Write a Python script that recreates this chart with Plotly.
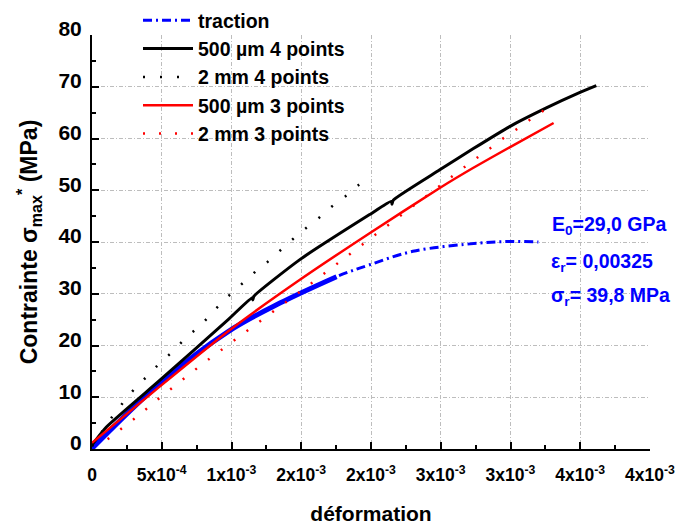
import plotly.graph_objects as go

# traction (blue, dash-dot); the dense early part is drawn thick
trac_x = [0, 4.87e-4, 9.76e-4, 1.347e-3, 1.753e-3, 1.99e-3, 2.3e-3, 2.78e-3, 3.0e-3, 3.2e-3]
trac_y = [0.1, 12.7, 22.7, 28.2, 33.3, 35.6, 38.2, 39.8, 40.1, 40.0]
trac_dense_x = [0, 4.87e-4, 9.76e-4, 1.347e-3, 1.753e-3]
trac_dense_y = [0.1, 12.7, 22.7, 28.2, 33.3]

# 500 um 4 points (black solid)
b4_x = [0, 1.05e-4, 4.87e-4, 9.76e-4, 1.15e-3, 1.153e-3, 1.16e-3, 1.49e-3, 1.99e-3,
        2.147e-3, 2.15e-3, 2.16e-3, 2.49e-3, 2.731e-3, 2.994e-3, 3.257e-3, 3.49e-3, 3.615e-3]
b4_y = [0.8, 4.3, 13.3, 25.0, 29.3, 28.8, 29.5, 36.6, 45.3,
        47.9, 47.3, 48.1, 53.9, 58.0, 62.3, 65.9, 68.8, 70.2]

# 2 mm 4 points (black dotted)
m4_x = [0, 6.9e-5, 1.45e-4, 2.24e-4, 3.08e-4, 4.03e-4, 4.94e-4, 5.87e-4, 6.78e-4, 7.74e-4,
        8.76e-4, 9.72e-4, 1.063e-3, 1.16e-3, 1.256e-3, 1.352e-3, 1.454e-3, 1.526e-3,
        1.624e-3, 1.717e-3, 1.815e-3, 1.915e-3]
m4_y = [0.5, 3.35, 6.25, 9.03, 11.74, 14.26, 16.83, 19.0, 21.7, 23.7,
        26.8, 29.4, 31.7, 34.0, 36.1, 38.5, 40.9, 42.5,
        44.6, 46.8, 48.8, 51.1]

# 500 um 3 points (red solid)
r3_x = [0, 4.87e-4, 9.88e-4, 1.49e-3, 1.99e-3, 2.49e-3, 2.731e-3, 2.994e-3, 3.309e-3]
r3_y = [1.2, 12.1, 23.0, 32.7, 41.7, 50.4, 54.3, 58.3, 63.0]

# 2 mm 3 points (red dotted)
m3_x = [1.12e-4, 2.24e-4, 3.39e-4, 4.51e-4, 5.64e-4, 6.78e-4, 7.9e-4, 9.05e-4, 1.017e-3,
        1.132e-3, 1.246e-3, 1.359e-3, 1.471e-3, 1.586e-3, 1.698e-3, 1.813e-3, 1.925e-3,
        2.039e-3, 2.151e-3, 2.266e-3, 2.378e-3, 2.493e-3, 2.605e-3, 2.72e-3, 2.834e-3,
        2.946e-3, 3.061e-3, 3.175e-3, 3.288e-3]
m3_y = [1.88, 4.12, 6.58, 9.15, 11.6, 14.0, 16.4, 18.7, 20.9,
        23.2, 25.5, 27.7, 30.0, 32.3, 34.6, 36.9, 39.1,
        41.5, 43.8, 46.1, 48.5, 50.9, 53.1, 55.5, 57.7,
        60.0, 62.1, 64.3, 66.3]

x_ticks = [0, 5e-4, 1e-3, 1.5e-3, 2e-3, 2.5e-3, 3e-3, 3.5e-3, 4e-3]
x_labels = ["0", "5x10<sup>-4</sup>", "1x10<sup>-3</sup>", "2x10<sup>-3</sup>", "2x10<sup>-3</sup>",
            "3x10<sup>-3</sup>", "3x10<sup>-3</sup>", "4x10<sup>-3</sup>", "4x10<sup>-3</sup>"]

FONT = "Liberation Sans, Arial, sans-serif"
BLUE = "#0000ff"

fig = go.Figure()
fig.add_trace(go.Scatter(x=trac_x, y=trac_y, mode="lines", name="traction",
                         line=dict(color=BLUE, width=3, dash="9px,4px,2px,4px", shape="spline")))
fig.add_trace(go.Scatter(x=trac_dense_x, y=trac_dense_y, mode="lines", showlegend=False,
                         line=dict(color=BLUE, width=5, shape="spline")))
fig.add_trace(go.Scatter(x=b4_x, y=b4_y, mode="lines", name="500 µm 4 points",
                         line=dict(color="black", width=3, shape="spline", smoothing=0.5)))
fig.add_trace(go.Scatter(x=m4_x, y=m4_y, mode="lines", name="2 mm 4 points",
                         line=dict(color="black", width=2.5, dash="2px,15px")))
fig.add_trace(go.Scatter(x=r3_x, y=r3_y, mode="lines", name="500 µm 3 points",
                         line=dict(color="red", width=2.5, shape="spline", smoothing=0.6)))
fig.add_trace(go.Scatter(x=m3_x, y=m3_y, mode="lines", name="2 mm 3 points",
                         line=dict(color="red", width=2.5, dash="2px,14px")))

grid = dict(showgrid=True, gridcolor="#bdbdbd", gridwidth=1, griddash="4px,2px,1px,2px")
axis_common = dict(showline=True, linecolor="black", linewidth=2, ticks="inside",
                   ticklen=7, tickwidth=2, tickcolor="black", zeroline=False,
                   automargin=False, **grid)

fig.update_xaxes(range=[0, 4e-3], tickvals=x_ticks, ticktext=x_labels, tickangle=0,
                 ticklabelstandoff=9,
                 tickfont=dict(family=FONT, size=17.5, color="black", weight="bold"),
                 minor=dict(dtick=2.5e-4, ticks="inside", ticklen=4, tickwidth=2, tickcolor="black", showgrid=False),
                 title=dict(text="déformation", standoff=24,
                            font=dict(family=FONT, size=21, color="black", weight="bold")),
                 **axis_common)
fig.update_yaxes(range=[0, 80], dtick=10, ticklabelstandoff=4, ticklabelshift=-6,
                 tickfont=dict(family=FONT, size=21, color="black", weight="bold"),
                 minor=dict(dtick=5, ticks="inside", ticklen=4, tickwidth=2, tickcolor="black", showgrid=False),
                 title=dict(text="Contrainte σ<sub>max</sub><sup>*</sup> (MPa)", standoff=14,
                            font=dict(family=FONT, size=23, color="black", weight="bold")),
                 **axis_common)

ann_font = dict(family=FONT, size=19.5, color=BLUE, weight="bold")
for txt, xa, ya in [("E<sub>0</sub>=29,0 GPa", 550, 225),
                    ("ε<sub>r</sub>= 0,00325", 549, 262),
                    ("σ<sub>r</sub>= 39,8 MPa", 549, 296)]:
    fig.add_annotation(x=(xa - 92) / 558, y=(449 - ya) / 414, xref="paper", yref="paper",
                       text=txt, showarrow=False, xanchor="left", yanchor="middle", font=ann_font)

fig.update_layout(
    width=681, height=525,
    margin=dict(l=92, r=31, t=35, b=76, autoexpand=False),
    paper_bgcolor="white", plot_bgcolor="white",
    showlegend=True,
    legend=dict(x=(138 - 92) / 558, y=(449 - 1) / 414,
                xanchor="left", yanchor="top", bgcolor="rgba(0,0,0,0)",
                font=dict(family=FONT, size=19.5, color="black", weight="bold"),
                itemwidth=50, tracegroupgap=0),
)

# the page body has a default 8px margin; remove it so the figure sits at the window origin
fig.write_html("out.html", config={"displayModeBar": False},
               post_script="document.body.style.margin='0';")
